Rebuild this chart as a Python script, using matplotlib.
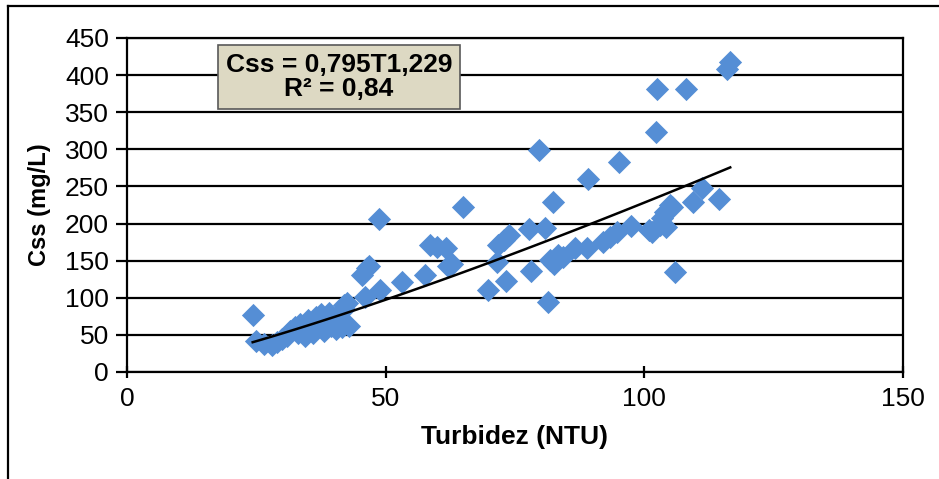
import numpy as np
import matplotlib
matplotlib.use("Agg")
import matplotlib.pyplot as plt
from matplotlib.lines import Line2D

plt.rcParams['font.family'] = ['Liberation Sans', 'DejaVu Sans']

# turbidez (NTU) e Css (mg/L)
turbidez = [24.3, 25, 26.5, 28, 29, 30, 31, 31.5, 32.5, 33, 33.5, 34, 35, 35.5,
            36, 36.5, 37, 37.5, 38, 38.5, 39, 39.5, 40, 40.5, 41, 41.5, 42, 42.5,
            38, 34.5, 36.7, 43, 42,
            45.4, 46.4, 46.8, 46, 48.7, 48.9, 53.2, 57.6, 58.6, 59.9, 61.7, 62,
            62.8, 65, 69.8, 71.5, 71.7, 73.3, 73.8, 72.8, 78.1, 77.8, 79.6, 80.8,
            81.4, 81.8, 82.4, 82.5, 83.3, 84.3, 86.6, 88.9, 89.1, 92, 93.4, 94.7,
            95.1, 97.4, 100.9, 101.5, 102.3, 102.5, 103, 103.4, 104, 105, 105.4,
            104.2, 105.9, 108.1, 109.4, 111.2, 114.4, 116, 116.6]
css = [77, 42, 38, 36, 40, 45, 48, 55, 60, 52, 65, 57, 70, 62,
       52, 74, 65, 78, 58, 70, 80, 62, 72, 58, 65, 60, 85, 93,
       55, 48, 68, 62, 90,
       131, 140, 143, 101, 206, 110, 121, 131, 171, 168, 167, 143,
       145, 222, 110, 148, 171, 123, 185, 178, 136, 193, 299, 194,
       94, 151, 229, 145, 158, 155, 167, 167, 260, 175, 182, 189,
       283, 197, 191, 188, 323, 381, 198, 207, 216, 225, 222,
       196, 135, 381, 229, 248, 233, 408, 418]

# linha de tendência (potência)
coef_a = 0.795
coef_b = 1.229

fig = plt.figure(figsize=(9.39, 4.79), dpi=100)
ax = fig.add_axes([0.1352, 0.2234, 0.8265, 0.6973])

ax.scatter(turbidez, css, marker='D', s=140, color='#558ED5', zorder=3, linewidths=0)

xt = np.linspace(min(turbidez), max(turbidez), 100)
ax.plot(xt, coef_a * xt ** coef_b, color='black', lw=1.8, zorder=4)

ax.set_xlim(0, 150)
ax.set_ylim(0, 450)
ax.set_xticks([0, 50, 100, 150])
ax.set_yticks(np.arange(0, 451, 50))
ax.yaxis.grid(True, color='black', lw=1.6)
ax.set_axisbelow(True)
for s in ['left', 'bottom', 'right', 'top']:
    ax.spines[s].set_linewidth(1.6)
ax.tick_params(axis='y', direction='out', length=8, width=1.6, labelsize=19, pad=5)
ax.tick_params(axis='x', direction='inout', length=8, width=1.6, labelsize=19, pad=7)

ax.set_xlabel('Turbidez (NTU)', fontsize=19, fontweight='bold', labelpad=10)
ax.set_ylabel('Css (mg/L)', fontsize=17, fontweight='bold', labelpad=10)

ax.text(0.273, 0.883, 'Css = 0,795T1,229\nR² = 0,84', transform=ax.transAxes,
        ha='center', va='center', fontsize=19, fontweight='bold', linespacing=1.0,
        bbox=dict(boxstyle='square,pad=0.3', facecolor='#DDD9C3', edgecolor='#595959', lw=1.2),
        zorder=5)

# moldura do gráfico
fig.add_artist(Line2D([8 / 939, 1], [1 - 6 / 479, 1 - 6 / 479], transform=fig.transFigure, color='black', lw=1.6))
fig.add_artist(Line2D([8 / 939, 8 / 939], [0, 1 - 6 / 479], transform=fig.transFigure, color='black', lw=1.6))

fig.savefig('out.png', dpi=100)
